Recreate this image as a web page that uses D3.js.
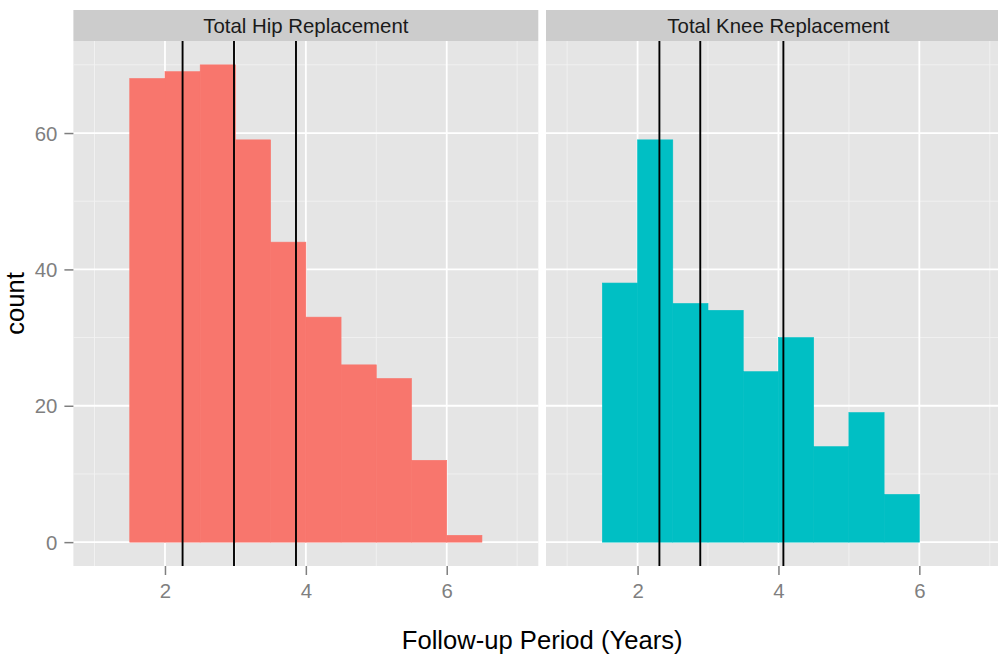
<!DOCTYPE html>
<html>
<head>
<meta charset="utf-8">
<script src="https://cdn.jsdelivr.net/npm/d3@7"></script>
<style>
  html, body { margin: 0; padding: 0; background: #ffffff; overflow: hidden; }
  svg { display: block; font-family: "Liberation Sans", Arial, Helvetica, sans-serif; }
</style>
</head>
<body>
<svg id="chart" width="998" height="654"></svg>
<script>
// ---------- data ----------
const facets = ["Total Hip Replacement", "Total Knee Replacement"];
const binEdges = [1.5, 2, 2.5, 3, 3.5, 4, 4.5, 5, 5.5, 6, 6.5];
const hipCounts = [68, 69, 70, 59, 44, 33, 26, 24, 12, 1];
const kneeCounts = [38, 59, 35, 34, 25, 30, 14, 19, 7, 0];
const hipLines = [2.25, 2.98, 3.86];
const kneeLines = [2.31, 2.89, 4.07];
const fillColors = ["#F8766D", "#00BFC4"];
const xMajorTicks = [2, 4, 6];
const xMinorTicks = [1, 3, 5, 7];
const yMajorTicks = [0, 20, 40, 60];
const yMinorTicks = [10, 30, 50, 70];
const xTitle = "Follow-up Period (Years)";
const yTitle = "count";

const seriesCounts = [hipCounts, kneeCounts];
const seriesLines = [hipLines, kneeLines];

// ---------- layout ----------
const svg = d3.select("#chart");
const panelTop = 41, panelBottom = 566;
const stripTop = 10;
const panelW = 464.9;
const panelLefts = [73.4, 546.0];
const xDomain = [0.7, 7.3];
const yDomain = [-3.5, 73.5];

const y = d3.scaleLinear().domain(yDomain).range([panelBottom, panelTop]);

const axisFont = 20.4, titleFont = 25.6;
const greyText = "#7f7f7f";

facets.forEach((name, i) => {
  const x0 = panelLefts[i];
  const x = d3.scaleLinear().domain(xDomain).range([x0, x0 + panelW]);
  const g = svg.append("g");

  // panel background
  g.append("rect").attr("x", x0).attr("y", panelTop)
    .attr("width", panelW).attr("height", panelBottom - panelTop)
    .attr("fill", "#e5e5e5");

  // minor grid
  g.selectAll(".vminor").data(xMinorTicks).join("line")
    .attr("x1", d => x(d)).attr("x2", d => x(d))
    .attr("y1", panelTop).attr("y2", panelBottom)
    .attr("stroke", "#f2f2f2").attr("stroke-width", 0.9);
  g.selectAll(".hminor").data(yMinorTicks).join("line")
    .attr("x1", x0).attr("x2", x0 + panelW)
    .attr("y1", d => y(d)).attr("y2", d => y(d))
    .attr("stroke", "#f2f2f2").attr("stroke-width", 0.9);
  // major grid
  g.selectAll(".vmajor").data(xMajorTicks).join("line")
    .attr("x1", d => x(d)).attr("x2", d => x(d))
    .attr("y1", panelTop).attr("y2", panelBottom)
    .attr("stroke", "#ffffff").attr("stroke-width", 1.8);
  g.selectAll(".hmajor").data(yMajorTicks).join("line")
    .attr("x1", x0).attr("x2", x0 + panelW)
    .attr("y1", d => y(d)).attr("y2", d => y(d))
    .attr("stroke", "#ffffff").attr("stroke-width", 1.8);

  // bars
  const bins = seriesCounts[i].map((c, k) => ({ x0: binEdges[k], x1: binEdges[k + 1], c }));
  g.selectAll(".bar").data(bins.filter(b => b.c > 0)).join("rect")
    .attr("x", d => x(d.x0))
    .attr("width", d => x(d.x1) - x(d.x0))
    .attr("y", d => y(d.c))
    .attr("height", d => y(0) - y(d.c))
    .attr("fill", fillColors[i])
    .attr("stroke", fillColors[i]).attr("stroke-width", 0.6);

  // vertical reference lines
  g.selectAll(".vline").data(seriesLines[i]).join("line")
    .attr("x1", d => x(d)).attr("x2", d => x(d))
    .attr("y1", panelTop).attr("y2", panelBottom)
    .attr("stroke", "#000000").attr("stroke-width", 1.9);

  // strip
  g.append("rect").attr("x", x0).attr("y", stripTop)
    .attr("width", panelW).attr("height", panelTop - stripTop)
    .attr("fill", "#cccccc");
  g.append("text").attr("x", x0 + panelW / 2).attr("y", 33.3)
    .attr("text-anchor", "middle").attr("font-size", axisFont)
    .attr("fill", "#1a1a1a").text(name);

  // x axis
  const xAxis = d3.axisBottom(x).tickValues(xMajorTicks)
    .tickSizeInner(9).tickSizeOuter(0).tickPadding(9).tickFormat(d3.format("d"));
  const ax = g.append("g").attr("transform", `translate(0,${panelBottom})`).call(xAxis);
  ax.select(".domain").remove();
  ax.selectAll(".tick line").attr("stroke", greyText).attr("stroke-width", 1.5);
  ax.selectAll(".tick text").attr("fill", greyText).attr("font-size", axisFont)
    .attr("font-family", "'Liberation Sans', Arial, sans-serif")
    .attr("dy", null).attr("y", 32.3);

  // y axis only on first panel
  if (i === 0) {
    const yAxis = d3.axisLeft(y).tickValues(yMajorTicks)
      .tickSizeInner(9).tickSizeOuter(0).tickPadding(7).tickFormat(d3.format("d"));
    const ay = g.append("g").attr("transform", `translate(${x0},0)`).call(yAxis);
    ay.select(".domain").remove();
    ay.selectAll(".tick line").attr("stroke", greyText).attr("stroke-width", 1.5);
    ay.selectAll(".tick text").attr("fill", greyText).attr("font-size", axisFont)
      .attr("font-family", "'Liberation Sans', Arial, sans-serif")
      .attr("dy", "0.35em");
  }
});

// axis titles
const fullLeft = panelLefts[0], fullRight = panelLefts[1] + panelW;
svg.append("text").attr("x", (fullLeft + fullRight) / 2).attr("y", 649)
  .attr("text-anchor", "middle").attr("font-size", titleFont).attr("fill", "#000")
  .text(xTitle);
svg.append("text")
  .attr("transform", `translate(23.5,${(panelTop + panelBottom) / 2}) rotate(-90)`)
  .attr("text-anchor", "middle").attr("font-size", titleFont).attr("fill", "#000")
  .text(yTitle);
</script>
</body>
</html>
